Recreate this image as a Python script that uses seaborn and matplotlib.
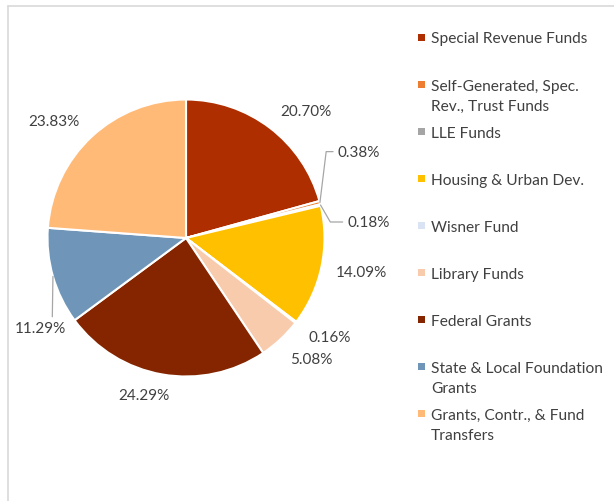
import matplotlib
matplotlib.use("Agg")
import matplotlib.pyplot as plt
import seaborn as sns
import numpy as np
from matplotlib.patches import Rectangle
from matplotlib.lines import Line2D

# data
funds = ["Special Revenue Funds", "Self-Generated, Spec.\nRev., Trust Funds", "LLE Funds",
         "Housing & Urban Dev.", "Wisner Fund", "Library Funds", "Federal Grants",
         "State & Local Foundation\nGrants", "Grants, Contr., & Fund\nTransfers"]
shares = [20.70, 0.38, 0.18, 14.09, 0.16, 5.08, 24.29, 11.29, 23.83]
colors = ["#AE2E00", "#ED7D31", "#A5A5A5", "#FFC000", "#DAE3F3",
          "#F8CBAD", "#842500", "#6F96B9", "#FFBA78"]

# label offsets in pixels from the outer edge at each wedge's mid angle
label_offsets = [(36, 17), (39, 51), (48, -17), (40, -5), (34, -15),
                 (31, -20), (-18, -21), (-13, -52), (-38, 16)]

sns.set_theme(style="white")
plt.rcParams["font.family"] = ["Lato", "DejaVu Sans"]
text_color = "#404040"

W, H = 614, 502
fig = plt.figure(figsize=(W / 100, H / 100), dpi=100)

# pie axes: center (186, 239) px, radius 138.5 px
cx, cy, r = 186, 239, 138.5
ax = fig.add_axes([(cx - r) / W, (H - cy - r) / H, 2 * r / W, 2 * r / H])
wedges, _ = ax.pie(shares, colors=colors, startangle=90, counterclock=False, radius=1,
                   wedgeprops=dict(edgecolor="white", linewidth=1.5))
ax.set_xlim(-1, 1)
ax.set_ylim(-1, 1)
ax.axis("off")

leader = {1: dict(relpos=(0, 0.5), connectionstyle="angle,angleA=180,angleB=83,rad=0"),
          2: dict(relpos=(0, 0.5), connectionstyle="angle,angleA=180,angleB=-60,rad=0"),
          7: dict(relpos=(0.74, 1.0), connectionstyle="arc3")}

for i, (w, v) in enumerate(zip(wedges, shares)):
    mid = np.deg2rad((w.theta1 + w.theta2) / 2)
    anchor = (np.cos(mid), np.sin(mid))
    kw = {}
    if i in leader:
        kw["arrowprops"] = dict(arrowstyle="-", color="#A6A6A6", lw=0.9,
                                shrinkA=1, shrinkB=0, **leader[i])
    ax.annotate(f"{v:.2f}%", xy=anchor, xytext=label_offsets[i], textcoords="offset pixels",
                ha="center", va="center", fontsize=11, color=text_color,
                annotation_clip=False, **kw)

# legend
y0, step = 38, 47.1
for i, (name, c) in enumerate(zip(funds, colors)):
    y = y0 + i * step
    fig.add_artist(Rectangle((418 / W, 1 - (y + 3.5) / H), 7 / W, 7 / H,
                             transform=fig.transFigure, facecolor=c, edgecolor="none"))
    fig.text(431 / W, 1 - (y - 5.5) / H, name, ha="left", va="top", fontsize=11.2,
             color=text_color, linespacing=1.55)

# chart area border
fig.add_artist(Line2D([8 / W, 8 / W], [0, 1 - 7 / H], transform=fig.transFigure,
                      color="#D9D9D9", lw=1.2))
fig.add_artist(Line2D([8 / W, 1], [1 - 7 / H, 1 - 7 / H], transform=fig.transFigure,
                      color="#D9D9D9", lw=1.2))

fig.savefig("out.png", dpi=100)
